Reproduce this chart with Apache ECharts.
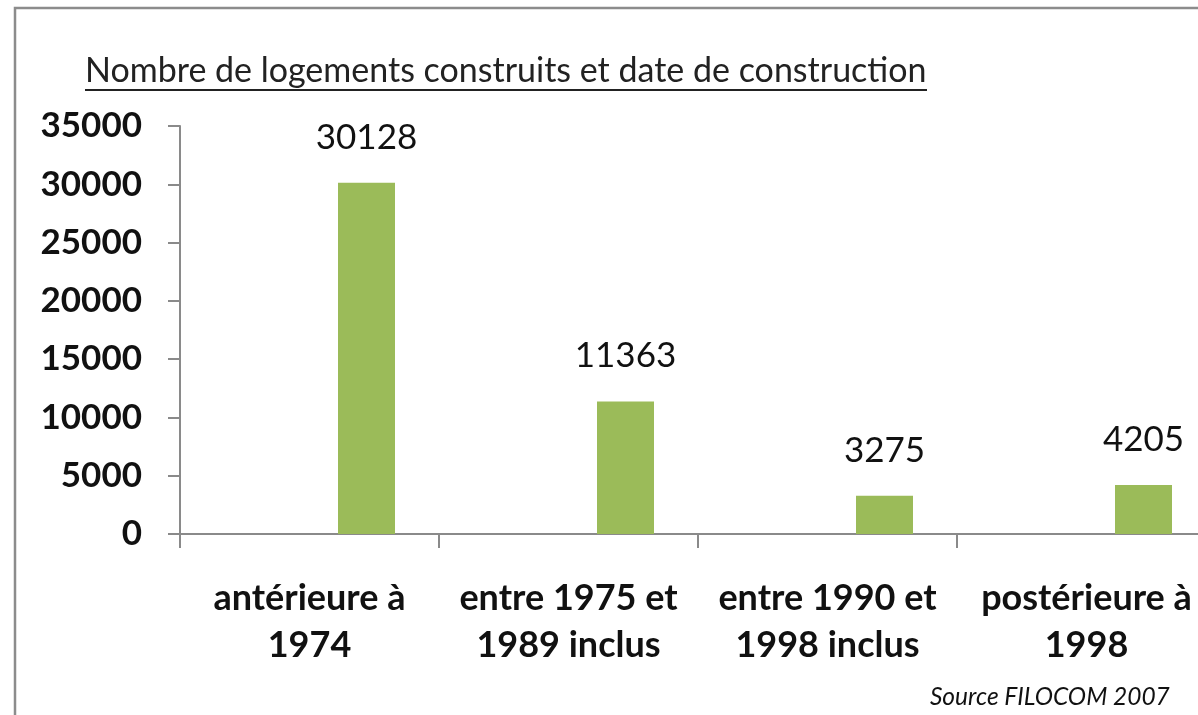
<!DOCTYPE html>
<html>
<head>
<meta charset="utf-8">
<script src="https://cdn.jsdelivr.net/npm/echarts@6/dist/echarts.min.js"></script>
<style>
html,body{margin:0;padding:0;background:#fff;overflow:hidden;}
#c{width:1240px;height:715px;}
</style>
</head>
<body>
<div id="c"></div>
<script>
const categories = ["antérieure à\n1974", "entre 1975 et\n1989 inclus", "entre 1990 et\n1998 inclus", "postérieure à\n1998"];
const values = [30128, 11363, 3275, 4205];
const emptySeries = [null, null, null, null];
const yTicks = { min: 0, max: 35000, interval: 5000 };
const titleText = "Nombre de logements construits et date de construction";
const sourceText = "Source FILOCOM 2007";

const chart = echarts.init(document.getElementById('c'));
const FONT = 'Lato';
const axisGray = '#8a8a8a';
chart.setOption({
  animation: false,
  backgroundColor: '#fff',
  grid: { left: 180, top: 126, right: 24, bottom: 181, containLabel: false },
  xAxis: {
    type: 'category',
    data: categories,
    axisLine: { show: true, lineStyle: { color: axisGray, width: 2 } },
    axisTick: { show: true, alignWithLabel: false, length: 14, lineStyle: { color: axisGray, width: 2 } },
    axisLabel: { fontFamily: FONT, fontWeight: 'bold', fontSize: 36, color: '#111', lineHeight: 47, margin: 41, interval: 0 }
  },
  yAxis: {
    type: 'value',
    min: yTicks.min, max: yTicks.max, interval: yTicks.interval,
    axisLine: { show: true, lineStyle: { color: axisGray, width: 2 } },
    axisTick: { show: true, length: 12, lineStyle: { color: axisGray, width: 2 } },
    splitLine: { show: false },
    axisLabel: { fontFamily: FONT, fontWeight: 'bold', fontSize: 35, color: '#111', margin: 38, formatter: function (v) { return String(v); } }
  },
  series: [
    { type: 'bar', data: emptySeries, barWidth: 57, barGap: '0%' },
    { type: 'bar', data: emptySeries, barWidth: 57, barGap: '0%' },
    {
      type: 'bar', data: values, barWidth: 57, barGap: '0%',
      itemStyle: { color: '#9bbb59' },
      label: { show: true, position: 'top', distance: 28, fontFamily: FONT, fontSize: 35, color: '#111' }
    }
  ],
  graphic: [
    { type: 'rect', shape: { x: 15, y: 8, width: 1220, height: 740 }, style: { fill: 'none', stroke: '#8c8c8c', lineWidth: 2.5 }, z: 10 },
    { type: 'text', left: 85, top: 54, style: { text: titleText, fontFamily: FONT, fontSize: 34, fill: '#222' } },
    { type: 'line', shape: { x1: 85, y1: 90, x2: 927, y2: 90 }, style: { stroke: '#222', lineWidth: 2 } },
    { type: 'text', left: 930, top: 685, style: { text: sourceText, fontFamily: FONT, fontStyle: 'italic', fontSize: 24.5, fill: '#111' } }
  ]
});
</script>
</body>
</html>
